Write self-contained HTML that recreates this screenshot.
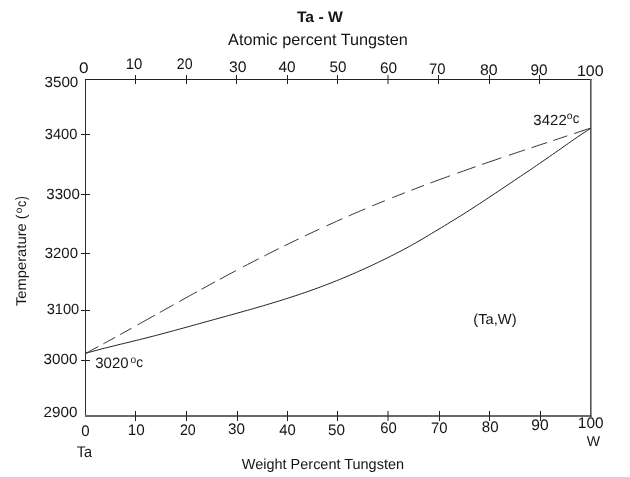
<!DOCTYPE html>
<html><head><meta charset="utf-8"><style>
html,body{margin:0;padding:0;background:#fff;}
svg{display:block;will-change:transform;}
text{font-family:"Liberation Sans",sans-serif;fill:#151515;}
</style></head><body>
<svg width="630" height="477" viewBox="0 0 630 477" text-rendering="geometricPrecision">
<rect width="630" height="477" fill="#fff"/>
<path d="M85.5,79 V417" stroke="#2e2e2e" stroke-width="1" fill="none"/>
<path d="M85,79.5 H591.6" stroke="#222" stroke-width="1" fill="none"/>
<path d="M85,416 H591.6" stroke="#6a6a6a" stroke-width="2" fill="none"/>
<path d="M590.8,79 V417" stroke="#555" stroke-width="1.6" fill="none"/>
<path d="M135.5,411 V421 M186.5,411 V421 M237.5,411 V421 M287.5,411 V421 M337.5,411 V421 M388.0,411 V421 M439.5,411 V421 M489.5,411 V421 M540.5,411 V421 M135.5,75 V84 M186.5,75 V84 M236.5,75 V84 M287.5,75 V84 M337.5,75 V84 M388.0,75 V84 M438.5,75 V84 M489.5,75 V84 M539.5,75 V84 M81,134.5 H90 M81,194.5 H90 M81,253.5 H90 M81,310.5 H90 M81,360.5 H90" stroke="#222" stroke-width="1" fill="none"/>
<path d="M85.50,353.40 L88.68,352.48 L91.85,351.58 L95.03,350.71 L98.20,349.86 L101.38,349.02 L104.56,348.20 L107.73,347.40 L110.91,346.60 L114.08,345.82 L117.26,345.04 L120.44,344.27 L123.61,343.50 L126.79,342.73 L129.97,341.97 L133.14,341.19 L136.32,340.42 L139.49,339.63 L142.67,338.84 L145.85,338.04 L149.02,337.23 L152.20,336.41 L155.37,335.58 L158.55,334.75 L161.73,333.91 L164.90,333.06 L168.08,332.21 L171.25,331.35 L174.43,330.49 L177.61,329.62 L180.78,328.75 L183.96,327.88 L187.14,327.00 L190.31,326.13 L193.49,325.25 L196.66,324.37 L199.84,323.49 L203.02,322.61 L206.19,321.73 L209.37,320.85 L212.54,319.97 L215.72,319.10 L218.90,318.22 L222.07,317.35 L225.25,316.47 L228.42,315.59 L231.60,314.71 L234.78,313.83 L237.95,312.95 L241.13,312.06 L244.31,311.17 L247.48,310.27 L250.66,309.37 L253.83,308.46 L257.01,307.55 L260.19,306.63 L263.36,305.70 L266.54,304.76 L269.71,303.81 L272.89,302.86 L276.07,301.89 L279.24,300.91 L282.42,299.92 L285.59,298.92 L288.77,297.91 L291.95,296.88 L295.12,295.84 L298.30,294.78 L301.47,293.71 L304.65,292.63 L307.83,291.52 L311.00,290.40 L314.18,289.27 L317.36,288.11 L320.53,286.94 L323.71,285.75 L326.88,284.53 L330.06,283.30 L333.24,282.05 L336.41,280.78 L339.59,279.49 L342.76,278.19 L345.94,276.86 L349.12,275.52 L352.29,274.15 L355.47,272.77 L358.64,271.37 L361.82,269.95 L365.00,268.52 L368.17,267.06 L371.35,265.59 L374.53,264.09 L377.70,262.58 L380.88,261.05 L384.05,259.51 L387.23,257.94 L390.41,256.36 L393.58,254.76 L396.76,253.14 L399.93,251.49 L403.11,249.82 L406.29,248.11 L409.46,246.38 L412.64,244.60 L415.81,242.80 L418.99,240.96 L422.17,239.10 L425.34,237.22 L428.52,235.33 L431.69,233.42 L434.87,231.50 L438.05,229.58 L441.22,227.66 L444.40,225.74 L447.58,223.82 L450.75,221.89 L453.93,219.95 L457.10,218.00 L460.28,216.03 L463.46,214.04 L466.63,212.02 L469.81,209.99 L472.98,207.95 L476.16,205.88 L479.34,203.81 L482.51,201.72 L485.69,199.63 L488.86,197.52 L492.04,195.41 L495.22,193.29 L498.39,191.18 L501.57,189.05 L504.75,186.93 L507.92,184.81 L511.10,182.68 L514.27,180.55 L517.45,178.42 L520.63,176.28 L523.80,174.14 L526.98,172.00 L530.15,169.85 L533.33,167.69 L536.51,165.52 L539.68,163.35 L542.86,161.18 L546.03,158.99 L549.21,156.79 L552.39,154.59 L555.56,152.37 L558.74,150.15 L561.92,147.91 L565.09,145.67 L568.27,143.44 L571.44,141.21 L574.62,139.00 L577.80,136.82 L580.97,134.67 L584.15,132.56 L587.32,130.50 L590.50,128.50" stroke="#222" stroke-width="1" fill="none"/>
<path d="M85.50,353.40 L88.68,351.71 L91.85,350.02 L95.03,348.32 L98.20,346.60 L101.38,344.88 L104.56,343.16 L107.73,341.42 L110.91,339.68 L114.08,337.94 L117.26,336.19 L120.44,334.43 L123.61,332.67 L126.79,330.91 L129.97,329.14 L133.14,327.37 L136.32,325.59 L139.49,323.82 L142.67,322.04 L145.85,320.26 L149.02,318.48 L152.20,316.70 L155.37,314.92 L158.55,313.14 L161.73,311.36 L164.90,309.58 L168.08,307.80 L171.25,306.03 L174.43,304.25 L177.61,302.48 L180.78,300.71 L183.96,298.94 L187.14,297.18 L190.31,295.42 L193.49,293.66 L196.66,291.91 L199.84,290.16 L203.02,288.42 L206.19,286.68 L209.37,284.94 L212.54,283.21 L215.72,281.49 L218.90,279.77 L222.07,278.06 L225.25,276.35 L228.42,274.65 L231.60,272.95 L234.78,271.26 L237.95,269.58 L241.13,267.91 L244.31,266.24 L247.48,264.58 L250.66,262.93 L253.83,261.28 L257.01,259.64 L260.19,258.01 L263.36,256.39 L266.54,254.77 L269.71,253.17 L272.89,251.57 L276.07,249.98 L279.24,248.40 L282.42,246.82 L285.59,245.26 L288.77,243.70 L291.95,242.15 L295.12,240.61 L298.30,239.08 L301.47,237.56 L304.65,236.04 L307.83,234.54 L311.00,233.04 L314.18,231.56 L317.36,230.08 L320.53,228.61 L323.71,227.15 L326.88,225.70 L330.06,224.25 L333.24,222.82 L336.41,221.40 L339.59,219.98 L342.76,218.57 L345.94,217.17 L349.12,215.78 L352.29,214.40 L355.47,213.03 L358.64,211.66 L361.82,210.31 L365.00,208.96 L368.17,207.62 L371.35,206.29 L374.53,204.97 L377.70,203.66 L380.88,202.35 L384.05,201.06 L387.23,199.77 L390.41,198.49 L393.58,197.21 L396.76,195.95 L399.93,194.69 L403.11,193.44 L406.29,192.20 L409.46,190.96 L412.64,189.73 L415.81,188.51 L418.99,187.30 L422.17,186.09 L425.34,184.89 L428.52,183.70 L431.69,182.51 L434.87,181.33 L438.05,180.16 L441.22,178.99 L444.40,177.83 L447.58,176.67 L450.75,175.52 L453.93,174.37 L457.10,173.23 L460.28,172.10 L463.46,170.97 L466.63,169.85 L469.81,168.73 L472.98,167.61 L476.16,166.50 L479.34,165.40 L482.51,164.29 L485.69,163.20 L488.86,162.10 L492.04,161.01 L495.22,159.93 L498.39,158.84 L501.57,157.76 L504.75,156.69 L507.92,155.61 L511.10,154.54 L514.27,153.47 L517.45,152.40 L520.63,151.34 L523.80,150.28 L526.98,149.22 L530.15,148.16 L533.33,147.10 L536.51,146.04 L539.68,144.99 L542.86,143.93 L546.03,142.88 L549.21,141.83 L552.39,140.77 L555.56,139.72 L558.74,138.67 L561.92,137.61 L565.09,136.56 L568.27,135.51 L571.44,134.45 L574.62,133.40 L577.80,132.34 L580.97,131.28 L584.15,130.22 L587.32,129.16 L590.50,128.10" stroke="#333" stroke-width="1" fill="none" stroke-dasharray="14.52 5.80 13.45 5.37 13.27 6.99 19.94 5.50 15.70 6.64 20.24 5.14 15.38 5.46 18.37 7.91 17.69 6.40 16.01 6.25 15.90 6.98 15.79 8.03 17.43 6.88 17.96 7.59 13.73 7.87 13.66 6.87 13.60 6.73 20.99 7.76 19.41 6.78 20.40 8.13 16.88 6.96 16.23 6.64 14.75 7.06 17.39 50.00"/>
<text x="296.93" y="21.70" font-size="15.26" textLength="45.99" lengthAdjust="spacingAndGlyphs" font-weight="bold">Ta - W</text>
<text x="228.07" y="45.20" font-size="16.20" textLength="179.78" lengthAdjust="spacingAndGlyphs">Atomic percent Tungsten</text>
<text x="241.84" y="469.30" font-size="14.60" textLength="162.19" lengthAdjust="spacingAndGlyphs">Weight Percent Tungsten</text>
<text x="473.39" y="323.80" font-size="14.40" textLength="43.22" lengthAdjust="spacingAndGlyphs">(Ta,W)</text>
<text x="76.78" y="456.80" font-size="15.41" textLength="15.31" lengthAdjust="spacingAndGlyphs">Ta</text>
<text x="586.84" y="445.70" font-size="14.10" textLength="13.30" lengthAdjust="spacingAndGlyphs">W</text>
<text x="79.13" y="72.98" font-size="15.25" textLength="9.52" lengthAdjust="spacingAndGlyphs">0</text>
<text x="125.67" y="68.78" font-size="15.25" textLength="16.61" lengthAdjust="spacingAndGlyphs">10</text>
<text x="176.79" y="69.48" font-size="15.25" textLength="15.75" lengthAdjust="spacingAndGlyphs">20</text>
<text x="229.10" y="71.78" font-size="15.25" textLength="17.50" lengthAdjust="spacingAndGlyphs">30</text>
<text x="278.46" y="72.38" font-size="15.25" textLength="17.13" lengthAdjust="spacingAndGlyphs">40</text>
<text x="329.59" y="71.58" font-size="15.25" textLength="16.89" lengthAdjust="spacingAndGlyphs">50</text>
<text x="379.93" y="72.58" font-size="15.25" textLength="17.16" lengthAdjust="spacingAndGlyphs">60</text>
<text x="429.04" y="73.53" font-size="15.25" textLength="16.53" lengthAdjust="spacingAndGlyphs">70</text>
<text x="479.92" y="75.08" font-size="15.25" textLength="17.69" lengthAdjust="spacingAndGlyphs">80</text>
<text x="530.59" y="74.58" font-size="15.25" textLength="17.10" lengthAdjust="spacingAndGlyphs">90</text>
<text x="576.99" y="75.88" font-size="15.25" textLength="26.63" lengthAdjust="spacingAndGlyphs">100</text>
<text x="81.31" y="435.58" font-size="15.25" textLength="8.36" lengthAdjust="spacingAndGlyphs">0</text>
<text x="127.84" y="434.93" font-size="15.25" textLength="16.94" lengthAdjust="spacingAndGlyphs">10</text>
<text x="179.89" y="435.23" font-size="15.25" textLength="15.86" lengthAdjust="spacingAndGlyphs">20</text>
<text x="228.02" y="434.23" font-size="15.25" textLength="16.96" lengthAdjust="spacingAndGlyphs">30</text>
<text x="279.27" y="435.23" font-size="15.25" textLength="16.49" lengthAdjust="spacingAndGlyphs">40</text>
<text x="327.99" y="435.23" font-size="15.25" textLength="17.00" lengthAdjust="spacingAndGlyphs">50</text>
<text x="380.26" y="433.33" font-size="15.25" textLength="16.51" lengthAdjust="spacingAndGlyphs">60</text>
<text x="431.04" y="432.78" font-size="15.25" textLength="16.53" lengthAdjust="spacingAndGlyphs">70</text>
<text x="481.85" y="431.98" font-size="15.25" textLength="16.72" lengthAdjust="spacingAndGlyphs">80</text>
<text x="531.28" y="430.48" font-size="15.25" textLength="17.31" lengthAdjust="spacingAndGlyphs">90</text>
<text x="577.83" y="428.33" font-size="15.25" textLength="25.66" lengthAdjust="spacingAndGlyphs">100</text>
<text x="44.52" y="86.69" font-size="14.83" textLength="33.76" lengthAdjust="spacingAndGlyphs">3500</text>
<text x="44.74" y="138.69" font-size="14.83" textLength="32.62" lengthAdjust="spacingAndGlyphs">3400</text>
<text x="46.33" y="199.14" font-size="14.83" textLength="33.45" lengthAdjust="spacingAndGlyphs">3300</text>
<text x="44.73" y="258.09" font-size="14.83" textLength="33.25" lengthAdjust="spacingAndGlyphs">3200</text>
<text x="46.64" y="313.69" font-size="14.83" textLength="32.62" lengthAdjust="spacingAndGlyphs">3100</text>
<text x="43.62" y="363.99" font-size="14.83" textLength="33.76" lengthAdjust="spacingAndGlyphs">3000</text>
<text x="43.44" y="417.29" font-size="14.83" textLength="33.95" lengthAdjust="spacingAndGlyphs">2900</text>
<text x="533.33" y="124.84" font-size="14.83" textLength="33.43" lengthAdjust="spacingAndGlyphs">3422</text>
<text x="95.23" y="368.44" font-size="14.97" textLength="33.35" lengthAdjust="spacingAndGlyphs">3020</text>
<text x="566.76" y="118.59" font-size="10.04" textLength="5.76" lengthAdjust="spacingAndGlyphs">o</text>
<text x="572.85" y="122.74" font-size="14.60" textLength="6.60" lengthAdjust="spacingAndGlyphs">c</text>
<text x="130.47" y="362.79" font-size="10.40" textLength="5.64" lengthAdjust="spacingAndGlyphs">o</text>
<text x="136.33" y="366.74" font-size="14.42" textLength="6.83" lengthAdjust="spacingAndGlyphs">c</text>
<g transform="translate(25.7,305.8) rotate(-90)"><text x="-0.32" y="0.00" font-size="14.10" textLength="91.89" lengthAdjust="spacingAndGlyphs">Temperature (</text><text x="92.63" y="-3.51" font-size="10.04" textLength="5.59" lengthAdjust="spacingAndGlyphs">o</text><text x="98.77" y="0.14" font-size="14.23" textLength="6.25" lengthAdjust="spacingAndGlyphs">c</text><text x="105.85" y="0.10" font-size="14.91" textLength="3.63" lengthAdjust="spacingAndGlyphs">)</text></g>
</svg>
</body></html>
